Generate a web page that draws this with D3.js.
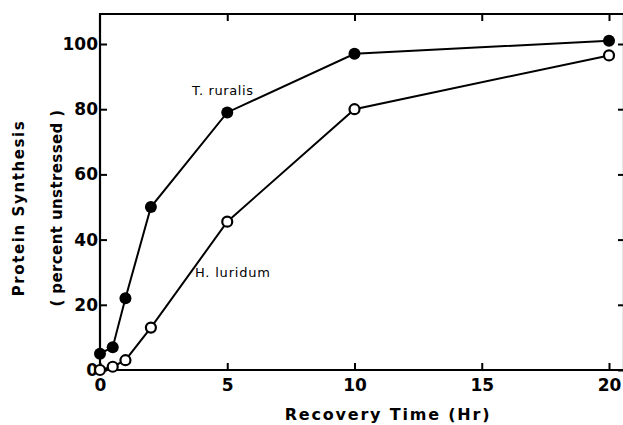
<!DOCTYPE html>
<html>
<head>
<meta charset="utf-8">
<script src="https://cdn.jsdelivr.net/npm/d3@7/dist/d3.min.js"></script>
<style>
  html, body { margin: 0; padding: 0; background: #fff; }
  svg { display: block; }
  text { font-family: "DejaVu Sans", sans-serif; fill: #000; }
</style>
</head>
<body>
<svg id="chart" width="623" height="425"></svg>
<script>
// Recovery of protein synthesis after stress, two moss species
const hours = [0, 0.5, 1, 2, 5, 10, 20];
const ruralis = [5, 7, 22, 50, 79, 97, 101];
const luridum = [0, 1, 3, 13, 45.5, 80, 96.5];
const xTicks = [0, 5, 10, 15, 20];
const yTicks = [0, 20, 40, 60, 80, 100];

const svg = d3.select("#chart");
const plotLeft = 100, plotRight = 624, plotTop = 14, plotBottom = 370;

const x = d3.scaleLinear().domain([0, 20]).range([plotLeft, 609]);
const y = d3.scaleLinear().domain([0, 100]).range([plotBottom, 44]);

// frame
const frame = svg.append("g").attr("stroke", "#000").attr("stroke-width", 2.2).attr("fill", "none");
frame.append("path").attr("d", `M${plotRight},${plotTop}H${plotLeft}V${plotBottom}H${plotRight}`);
frame.append("line").attr("x1", plotRight).attr("x2", plotRight).attr("y1", plotTop).attr("y2", plotBottom);

// axes with inward ticks
const axisStyle = g => {
  g.select(".domain").remove();
  g.selectAll(".tick line").attr("stroke", "#000").attr("stroke-width", 2);
};

svg.append("g")
  .attr("transform", `translate(0,${plotBottom})`)
  .call(d3.axisBottom(x).tickValues(xTicks).tickSize(-7).tickPadding(9).tickFormat(d3.format("d")))
  .call(axisStyle)
  .call(g => g.selectAll("text").attr("font-size", 17).attr("font-weight", "bold").attr("dy", "0.71em"));

svg.append("g")
  .attr("transform", `translate(0,${plotTop})`)
  .call(d3.axisTop(x).tickValues(xTicks.slice(1)).tickSize(-7).tickFormat(""))
  .call(axisStyle);

svg.append("g")
  .attr("transform", `translate(${plotLeft},0)`)
  .call(d3.axisLeft(y).tickValues(yTicks).tickSize(-7).tickPadding(2).tickFormat(d3.format("d")))
  .call(axisStyle)
  .call(g => g.selectAll("text").attr("font-size", 17).attr("font-weight", "bold"));

svg.append("g")
  .attr("transform", `translate(${plotRight},0)`)
  .call(d3.axisRight(y).tickValues(yTicks).tickSize(-6).tickFormat(""))
  .call(axisStyle);

// series lines and markers
const line = d3.line().x((d, i) => x(hours[i])).y(d => y(d));

svg.append("path").datum(luridum).attr("d", line)
  .attr("fill", "none").attr("stroke", "#000").attr("stroke-width", 2);
svg.append("path").datum(ruralis).attr("d", line)
  .attr("fill", "none").attr("stroke", "#000").attr("stroke-width", 2);

svg.append("g").selectAll("circle").data(luridum).join("circle")
  .attr("cx", (d, i) => x(hours[i])).attr("cy", d => y(d)).attr("r", 5)
  .attr("fill", "#fff").attr("stroke", "#000").attr("stroke-width", 2.2);

svg.append("g").selectAll("circle").data(ruralis).join("circle")
  .attr("cx", (d, i) => x(hours[i])).attr("cy", d => y(d)).attr("r", 6)
  .attr("fill", "#000");

// series labels
svg.append("text").attr("x", 192).attr("y", 95).attr("font-size", 13)
  .attr("letter-spacing", 0.6).text("T. ruralis");
svg.append("text").attr("x", 195).attr("y", 277).attr("font-size", 13)
  .attr("letter-spacing", 0.8).text("H. luridum");

// axis titles
svg.append("text").attr("x", 388).attr("y", 420).attr("text-anchor", "middle")
  .attr("font-size", 16).attr("font-weight", "bold").attr("letter-spacing", 1.8)
  .text("Recovery Time (Hr)");

svg.append("text").attr("transform", "translate(24,208) rotate(-90)")
  .attr("text-anchor", "middle").attr("font-size", 15).attr("font-weight", "bold")
  .attr("letter-spacing", 1.6).text("Protein Synthesis");
svg.append("text").attr("transform", "translate(62,208) rotate(-90)")
  .attr("text-anchor", "middle").attr("font-size", 15).attr("font-weight", "bold")
  .attr("letter-spacing", 0.4).text("( percent unstressed )");
</script>
</body>
</html>
